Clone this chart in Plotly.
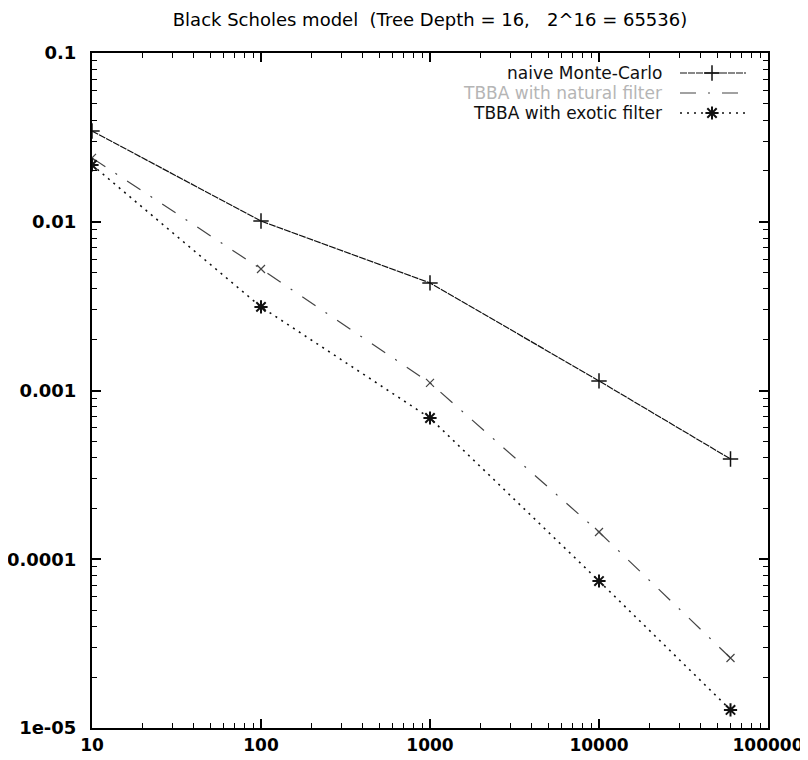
import plotly.graph_objects as go

# ---- data ----
samples = [10, 100, 1000, 10000, 60000]
naive_mc = [0.0345, 0.0101, 0.00434, 0.00114, 0.000393]
tbba_natural = [0.0239, 0.00525, 0.00111, 0.000145, 0.000026]
tbba_exotic = [0.0217, 0.00313, 0.000687, 0.0000743, 0.0000128]

x_tickvals = [10, 100, 1000, 10000, 100000]
x_ticktext = ["10", "100", "1000", "10000", "100000"]
y_tickvals = [1e-5, 1e-4, 1e-3, 1e-2, 1e-1]
y_ticktext = ["1e-05", "0.0001", "0.001", "0.01", "0.1"]

legend_names = ["naive Monte-Carlo", "TBBA with natural filter", "TBBA with exotic filter"]
title_text = "Black Scholes model\u00a0\u00a0(Tree Depth = 16,\u00a0\u00a0\u00a02^16 = 65536)"

FONT = "DejaVu Sans"

styles = [
    dict(color="#111", dash="7px,1px", width=1.2, symbol="cross-thin-open", msize=11, mline=1.5),
    dict(color="#444", dash="16px,12px,2px,12px", width=1.2, symbol="x-thin-open", msize=8, mline=1.2),
    dict(color="#111", dash="2px,5px", width=1.6, symbol="asterisk-open", msize=11, mline=2),
]
series = [naive_mc, tbba_natural, tbba_exotic]

fig = go.Figure()
for name, ys, st in zip(legend_names, series, styles):
    fig.add_trace(go.Scatter(
        x=samples, y=ys, mode="lines+markers", name=name, showlegend=False,
        line=dict(color=st["color"], dash=st["dash"], width=st["width"]),
        marker=dict(symbol=st["symbol"], size=st["msize"], color=st["color"],
                    line=dict(color=st["color"], width=st["mline"])),
    ))

# ---- geometry (page body has an 8px margin, so compensate) ----
OFF = 8
W, H = 808 - OFF, 760 - OFF
L, T = 92 - OFF, 53 - OFF
R = W - (768 - OFF)
B = H - (728 - OFF)
pw, ph = W - L - R, H - T - B
def px(xp):
    return (xp - OFF - L) / pw
def py(yp):
    return 1 - (yp - OFF - T) / ph

# ---- legend drawn gnuplot style (text, then sample on the right) ----
row_y = [73, 93, 113]
text_colors = ["#111", "#b5b5b5", "#111"]
for i, (name, st) in enumerate(zip(legend_names, styles)):
    yy = py(row_y[i])
    fig.add_trace(go.Scatter(
        x=[px(680), px(746)], y=[yy, yy], mode="lines", xaxis="x2", yaxis="y2",
        showlegend=False, hoverinfo="skip",
        line=dict(color=st["color"], dash=st["dash"], width=st["width"]),
    ))
    if i != 1:
        fig.add_trace(go.Scatter(
            x=[px(712)], y=[yy], mode="markers", xaxis="x2", yaxis="y2",
            showlegend=False, hoverinfo="skip",
            marker=dict(symbol=st["symbol"], size=st["msize"], color=st["color"],
                        line=dict(color=st["color"], width=st["mline"])),
        ))
    fig.add_annotation(
        text=name, x=px(664), y=yy, xref="paper", yref="paper",
        xanchor="right", yanchor="middle", showarrow=False,
        font=dict(family=FONT, size=17, color=text_colors[i]),
    )

def minor_vals(lo, hi):
    vals = []
    for e in range(lo, hi):
        for m in range(2, 10):
            vals.append(m * 10.0 ** e)
    return vals

axis_common = dict(
    type="log", showgrid=False, zeroline=False, automargin=False,
    showline=True, linecolor="black", linewidth=2, mirror="ticks",
    ticks="inside", ticklen=9, tickwidth=1.5, tickcolor="black",
)

fig.update_layout(
    width=W, height=H,
    margin=dict(l=L, r=R, t=T, b=B),
    paper_bgcolor="white", plot_bgcolor="white",
    title=dict(text=title_text, x=(L + pw / 2) / W, xanchor="center",
               y=1 - (20 - OFF) / H, yanchor="middle", yref="container",
               font=dict(family=FONT, size=18, color="black")),
    xaxis=dict(range=[1, 5], tickvals=x_tickvals, ticktext=x_ticktext,
               ticklabelstandoff=1,
               tickfont=dict(family=FONT, size=17, color="black", weight="bold"),
               minor=dict(ticks="inside", ticklen=5, tickwidth=1.2, tickcolor="black",
                          showgrid=False, tickvals=minor_vals(1, 5)),
               **axis_common),
    yaxis=dict(range=[-5, -1], tickvals=y_tickvals, ticktext=y_ticktext,
               ticklabelstandoff=10,
               tickfont=dict(family=FONT, size=18, color="black", weight="bold"),
               minor=dict(ticks="inside", ticklen=5, tickwidth=1.2, tickcolor="black",
                          showgrid=False, tickvals=minor_vals(-5, -1)),
               **axis_common),
    xaxis2=dict(range=[0, 1], overlaying="x", visible=False, fixedrange=True),
    yaxis2=dict(range=[0, 1], overlaying="y", visible=False, fixedrange=True),
    showlegend=False,
)

fig.write_html("out.html")
